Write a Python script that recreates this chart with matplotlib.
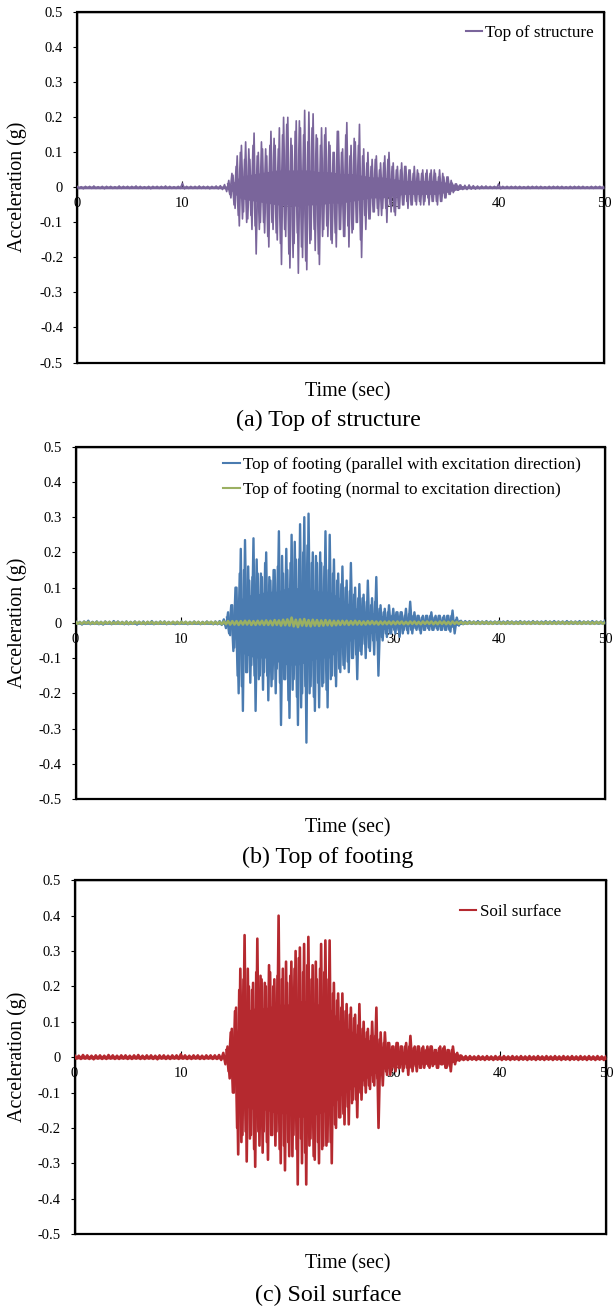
"""
Acceleration time histories: top of structure, top of footing, soil surface.
Each series is the run of successive peaks read off the record (alternating
sign), one peak every DT seconds, 0-50 s.  During strong shaking a second run
of in-between peaks (offset by DT/2, from SEC_T0) and the solid core of the
trace (upper/lower edge read at ENV_T) are kept as well.
"""

import numpy as np
import matplotlib
matplotlib.use("Agg")
import matplotlib.pyplot as plt

DT = 0.2  # s between successive peaks
SEC_T0 = 14.3  # first in-between peak

# (a) top of structure
top_structure = [
    0.003, -0.003, 0.002, -0.004, 0.003, -0.002, 0.003, -0.003, 0.004, -0.003, 0.002, -0.003, 0.003, -0.004, 0.003, -0.002, 0.003, -0.003, 0.002, -0.003, 0.004, -0.003, 0.003, -0.002, 0.003,
    -0.003, 0.003, -0.002, 0.004, -0.003, 0.003, -0.003, 0.002, -0.003, 0.003, -0.004, 0.003, -0.002, 0.003, -0.003, 0.003, -0.002, 0.004, -0.003, 0.003, -0.003, 0.002, -0.003, 0.003, -0.003,
    0.012, -0.004, 0.003, -0.003, 0.003, -0.003, 0.003, -0.003, 0.004, -0.003, 0.003, -0.003, 0.003, -0.004, 0.003, -0.003, 0.004, -0.004, 0.005, -0.006, 0.008, -0.012, 0.02, -0.03, 0.035,
    -0.06, 0.09, -0.11, 0.12, -0.07, 0.13, -0.09, 0.08, -0.12, 0.155, -0.19, 0.10, -0.10, 0.11, -0.13, 0.09, -0.17, 0.16, -0.12, 0.12, -0.15, 0.17, -0.22, 0.20, -0.14,
    0.20, -0.23, 0.12, -0.16, 0.19, -0.245, 0.17, -0.20, 0.22, -0.235, 0.215, -0.15, 0.21, -0.18, 0.14, -0.22, 0.17, -0.12, 0.17, -0.14, 0.12, -0.16, 0.10, -0.17, 0.16,
    -0.12, 0.11, -0.14, 0.185, -0.17, 0.12, -0.12, 0.13, -0.10, 0.18, -0.20, 0.11, -0.12, 0.10, -0.09, 0.08, -0.07, 0.09, -0.08, 0.07, -0.06, 0.09, -0.10, 0.10, -0.07,
    0.07, -0.08, 0.06, -0.06, 0.07, -0.05, 0.06, -0.06, 0.05, -0.05, 0.06, -0.05, 0.04, -0.05, 0.05, -0.04, 0.05, -0.05, 0.05, -0.04, 0.04, -0.05, 0.05, -0.04, 0.03,
    -0.03, 0.03, -0.02, 0.012, -0.01, 0.01, -0.008, 0.007, -0.006, 0.006, -0.006, 0.007, -0.005, 0.005, -0.005, 0.004, -0.004, 0.004, -0.003, 0.004, -0.003, 0.003, -0.003, 0.003, -0.003,
    0.010, -0.004, 0.003, -0.003, 0.003, -0.003, 0.003, -0.002, 0.003, -0.003, 0.003, -0.003, 0.002, -0.003, 0.003, -0.003, 0.003, -0.002, 0.003, -0.003, 0.003, -0.003, 0.002, -0.003, 0.003,
    -0.003, 0.003, -0.002, 0.003, -0.003, 0.003, -0.003, 0.002, -0.003, 0.003, -0.003, 0.003, -0.002, 0.003, -0.003, 0.003, -0.003, 0.002, -0.003, 0.003, -0.003, 0.003, -0.002, 0.003, -0.003, 0.003,
]
structure_mid = [
    0.01, -0.02, 0.04, -0.05, 0.06,
    -0.08, 0.10, -0.09, 0.08, -0.10, 0.11, -0.08, 0.12, -0.11, 0.09, -0.12, 0.13, -0.10, 0.11, -0.14, 0.12, -0.10, 0.14, -0.13, 0.11,
    -0.16, 0.15, -0.12, 0.18, -0.19, 0.14, -0.20, 0.16, -0.13, 0.19, -0.17, 0.15, -0.21, 0.13, -0.16, 0.17, -0.12, 0.15, -0.19, 0.12,
    -0.14, 0.15, -0.11, 0.13, -0.15, 0.10, -0.13, 0.16, -0.12, 0.10, -0.14, 0.15, -0.11, 0.09, -0.13, 0.14, -0.10, 0.12, -0.15, 0.09,
    -0.08, 0.07, -0.09, 0.06, -0.07, 0.08, -0.06, 0.05, -0.08, 0.07, -0.06, 0.08, -0.05, 0.06, -0.07, 0.05, -0.06, 0.05, -0.05, 0.06,
    -0.04, 0.05, -0.05, 0.04, -0.04, 0.05, -0.04, 0.04, -0.05, 0.04, -0.03, 0.04, -0.04, 0.05, -0.04, 0.03, -0.04, 0.04, -0.03, 0.03,
    -0.02, 0.02, -0.015, 0.01, -0.008, 0.006,
]

# (b) top of footing, parallel with excitation
footing_parallel = [
    0.004, -0.003, 0.003, -0.005, 0.004, -0.003, 0.006, -0.004, 0.003, -0.003, 0.004, -0.004, 0.003, -0.005, 0.004, -0.003, 0.003, -0.004, 0.005, -0.003, 0.004, -0.003, 0.003, -0.004, 0.004,
    -0.004, 0.003, -0.003, 0.004, -0.005, 0.003, -0.003, 0.004, -0.004, 0.003, -0.003, 0.005, -0.004, 0.003, -0.003, 0.004, -0.003, 0.004, -0.004, 0.003, -0.003, 0.003, -0.004, 0.003, -0.003,
    0.004, -0.003, 0.003, -0.004, 0.003, -0.003, 0.004, -0.003, 0.003, -0.004, 0.003, -0.003, 0.004, -0.003, 0.003, -0.004, 0.004, -0.004, 0.005, -0.006, 0.010, -0.015, 0.030, -0.035, 0.050,
    -0.07, 0.10, -0.20, 0.21, -0.25, 0.235, -0.14, 0.12, -0.12, 0.24, -0.25, 0.14, -0.15, 0.13, -0.14, 0.20, -0.22, 0.12, -0.16, 0.15, -0.13, 0.26, -0.29, 0.14, -0.16,
    0.15, -0.27, 0.25, -0.16, 0.18, -0.29, 0.28, -0.20, 0.30, -0.34, 0.31, -0.18, 0.20, -0.25, 0.17, -0.24, 0.17, -0.17, 0.26, -0.24, 0.25, -0.15, 0.18, -0.18, 0.14,
    -0.14, 0.16, -0.13, 0.12, -0.14, 0.17, -0.10, 0.10, -0.16, 0.11, -0.09, 0.08, -0.10, 0.12, -0.08, 0.07, -0.09, 0.13, -0.15, 0.05, -0.05, 0.04, -0.04, 0.05, -0.03,
    0.04, -0.03, 0.03, -0.04, 0.03, -0.02, 0.04, -0.03, 0.06, -0.03, 0.03, -0.02, 0.02, -0.03, 0.02, -0.02, 0.02, -0.02, 0.03, -0.02, 0.02, -0.02, 0.02, -0.02, 0.02,
    -0.02, 0.02, -0.025, 0.035, -0.03, 0.015, -0.008, 0.006, -0.004, 0.005, -0.003, 0.005, -0.003, 0.004, -0.003, 0.005, -0.003, 0.004, -0.003, 0.005, -0.003, 0.004, -0.003, 0.004, -0.003,
    0.005, -0.002, 0.004, -0.003, 0.005, -0.002, 0.004, -0.003, 0.004, -0.002, 0.005, -0.003, 0.004, -0.002, 0.004, -0.003, 0.005, -0.002, 0.004, -0.003, 0.004, -0.002, 0.005, -0.003, 0.004,
    -0.002, 0.005, -0.003, 0.004, -0.002, 0.004, -0.003, 0.005, -0.002, 0.004, -0.003, 0.004, -0.002, 0.005, -0.003, 0.004, -0.002, 0.004, -0.003, 0.005, -0.002, 0.004, -0.003, 0.004, -0.002, 0.006,
]
parallel_mid = [
    0.015, -0.03, 0.05, -0.08, 0.10,
    -0.15, 0.14, -0.18, 0.15, -0.14, 0.16, -0.17, 0.13, -0.15, 0.18, -0.16, 0.14, -0.19, 0.17, -0.15, 0.13, -0.18, 0.15, -0.20, 0.16,
    -0.17, 0.19, -0.16, 0.21, -0.22, 0.17, -0.19, 0.23, -0.21, 0.18, -0.24, 0.20, -0.18, 0.22, -0.20, 0.17, -0.21, 0.19, -0.17, 0.20,
    -0.18, 0.16, -0.19, 0.15, -0.16, 0.14, -0.15, 0.12, -0.13, 0.11, -0.12, 0.10, -0.11, 0.09, -0.10, 0.08, -0.09, 0.07, -0.08, 0.07,
    -0.06, 0.06, -0.07, 0.05, -0.05, 0.06, -0.05, 0.04, -0.04, 0.03, -0.03, 0.03, -0.03, 0.02, -0.02, 0.03, -0.02, 0.03, -0.03, 0.02,
    -0.02, 0.025, -0.02, 0.02, -0.015, 0.02, -0.02, 0.015, -0.02, 0.02, -0.015, 0.02, -0.02, 0.015, -0.015, 0.02, -0.02, 0.015, -0.02, 0.02,
    -0.02, 0.02, -0.012, 0.008, -0.005, 0.004,
]

# (b) top of footing, normal to excitation
footing_normal = [
    0.003, -0.003, 0.002, -0.003, 0.003, -0.002, 0.003, -0.003, 0.002, -0.003, 0.003, -0.003, 0.002, -0.003, 0.003, -0.002, 0.003, -0.003, 0.002, -0.003, 0.003, -0.003, 0.002, -0.003, 0.003,
    -0.003, 0.002, -0.003, 0.003, -0.002, 0.003, -0.003, 0.002, -0.003, 0.003, -0.002, 0.003, -0.003, 0.002, -0.003, 0.003, -0.002, 0.003, -0.003, 0.002, -0.003, 0.003, -0.002, 0.003, -0.003,
    0.003, -0.002, 0.003, -0.003, 0.002, -0.003, 0.003, -0.002, 0.003, -0.003, 0.002, -0.003, 0.003, -0.002, 0.003, -0.003, 0.003, -0.003, 0.003, -0.004, 0.004, -0.004, 0.005, -0.005, 0.005,
    -0.005, 0.005, -0.006, 0.005, -0.005, 0.006, -0.005, 0.006, -0.006, 0.005, -0.006, 0.006, -0.005, 0.006, -0.006, 0.007, -0.006, 0.006, -0.007, 0.008, -0.006, 0.007, -0.008, 0.009, -0.007,
    0.010, -0.008, 0.015, -0.010, 0.009, -0.012, 0.010, -0.008, 0.011, -0.009, 0.008, -0.010, 0.009, -0.008, 0.008, -0.009, 0.007, -0.008, 0.008, -0.007, 0.007, -0.008, 0.006, -0.007, 0.006,
    -0.006, 0.006, -0.005, 0.006, -0.006, 0.005, -0.005, 0.006, -0.005, 0.005, -0.005, 0.004, -0.005, 0.005, -0.004, 0.005, -0.004, 0.004, -0.005, 0.004, -0.004, 0.004, -0.004, 0.004, -0.004,
    0.004, -0.004, 0.004, -0.003, 0.004, -0.004, 0.003, -0.004, 0.004, -0.003, 0.004, -0.004, 0.003, -0.004, 0.004, -0.003, 0.004, -0.003, 0.004, -0.004, 0.003, -0.004, 0.004, -0.003, 0.004,
    -0.004, 0.003, -0.004, 0.004, -0.003, 0.003, -0.003, 0.003, -0.003, 0.002, -0.003, 0.003, -0.002, 0.003, -0.003, 0.002, -0.003, 0.003, -0.002, 0.003, -0.003, 0.002, -0.003, 0.003, -0.002,
    0.003, -0.003, 0.002, -0.003, 0.003, -0.002, 0.003, -0.003, 0.002, -0.003, 0.003, -0.002, 0.003, -0.003, 0.002, -0.003, 0.003, -0.002, 0.003, -0.003, 0.002, -0.003, 0.003, -0.002, 0.003,
    -0.003, 0.002, -0.003, 0.003, -0.002, 0.003, -0.003, 0.002, -0.003, 0.003, -0.002, 0.003, -0.003, 0.002, -0.003, 0.003, -0.002, 0.003, -0.003, 0.002, -0.003, 0.003, -0.002, 0.003, -0.003, 0.002,
]

# (c) soil surface
soil_surface = [
    0.005, -0.004, 0.004, -0.005, 0.006, -0.004, 0.005, -0.005, 0.004, -0.006, 0.005, -0.004, 0.005, -0.005, 0.004, -0.005, 0.006, -0.004, 0.005, -0.005, 0.004, -0.005, 0.005, -0.004, 0.005,
    -0.005, 0.004, -0.005, 0.005, -0.004, 0.006, -0.005, 0.004, -0.005, 0.005, -0.004, 0.005, -0.005, 0.004, -0.006, 0.005, -0.004, 0.005, -0.005, 0.004, -0.005, 0.005, -0.004, 0.005, -0.005,
    0.008, -0.004, 0.005, -0.005, 0.004, -0.005, 0.005, -0.004, 0.005, -0.005, 0.004, -0.005, 0.005, -0.004, 0.005, -0.005, 0.005, -0.005, 0.006, -0.008, 0.012, -0.02, 0.03, -0.06, 0.08,
    -0.10, 0.14, -0.275, 0.25, -0.22, 0.345, -0.295, 0.20, -0.22, 0.21, -0.31, 0.335, -0.25, 0.22, -0.21, 0.20, -0.29, 0.24, -0.22, 0.22, -0.21, 0.40, -0.30, 0.25, -0.32,
    0.21, -0.28, 0.27, -0.22, 0.30, -0.36, 0.31, -0.30, 0.32, -0.36, 0.34, -0.23, 0.26, -0.29, 0.22, -0.30, 0.32, -0.25, 0.33, -0.24, 0.33, -0.30, 0.21, -0.20, 0.18,
    -0.17, 0.18, -0.19, 0.15, -0.19, 0.14, -0.12, 0.12, -0.17, 0.15, -0.12, 0.10, -0.10, 0.08, -0.09, 0.10, -0.08, 0.14, -0.20, 0.07, -0.08, 0.07, -0.05, 0.04, -0.04,
    0.03, -0.04, 0.04, -0.03, 0.03, -0.03, 0.04, -0.05, 0.06, -0.04, 0.03, -0.04, 0.03, -0.03, 0.03, -0.02, 0.03, -0.03, 0.03, -0.02, 0.02, -0.03, 0.03, -0.02, 0.03,
    -0.03, 0.02, -0.04, 0.03, -0.02, 0.012, -0.010, 0.004, -0.008, 0.003, -0.008, 0.003, -0.007, 0.002, -0.008, 0.003, -0.007, 0.002, -0.008, 0.003, -0.007, 0.002, -0.008, 0.003, -0.007,
    0.002, -0.008, 0.003, -0.007, 0.002, -0.008, 0.003, -0.007, 0.002, -0.008, 0.003, -0.007, 0.002, -0.008, 0.003, -0.007, 0.002, -0.008, 0.003, -0.007, 0.002, -0.008, 0.003, -0.007, 0.002,
    -0.008, 0.003, -0.007, 0.002, -0.008, 0.003, -0.007, 0.002, -0.008, 0.003, -0.007, 0.002, -0.008, 0.003, -0.007, 0.002, -0.008, 0.003, -0.007, 0.002, -0.008, 0.003, -0.007, 0.002, -0.008, 0.002,
]
soil_mid = [
    0.02, -0.04, 0.07, -0.10, 0.13,
    -0.20, 0.19, -0.24, 0.22, -0.21, 0.25, -0.23, 0.19, -0.26, 0.24, -0.21, 0.23, -0.27, 0.21, -0.24, 0.26, -0.22, 0.20, -0.25, 0.23,
    -0.26, 0.22, -0.25, 0.27, -0.24, 0.23, -0.28, 0.25, -0.26, 0.28, -0.23, 0.24, -0.27, 0.26, -0.25, 0.22, -0.28, 0.27, -0.24, 0.25,
    -0.26, 0.24, -0.25, 0.22, -0.24, 0.18, -0.19, 0.16, -0.17, 0.14, -0.16, 0.13, -0.14, 0.12, -0.13, 0.11, -0.12, 0.09, -0.10, 0.08,
    -0.08, 0.07, -0.08, 0.06, -0.07, 0.06, -0.06, 0.05, -0.05, 0.04, -0.04, 0.04, -0.05, 0.03, -0.03, 0.04, -0.03, 0.03, -0.04, 0.03,
    -0.03, 0.03, -0.03, 0.025, -0.025, 0.03, -0.03, 0.025, -0.03, 0.02, -0.025, 0.03, -0.025, 0.02, -0.03, 0.025, -0.02, 0.025, -0.03, 0.02,
    -0.025, 0.02, -0.012, 0.008, -0.006, 0.004,
]

# solid core of each trace (upper / lower edge), read at these times
ENV_T = [0, 14.2, 14.6, 15.0, 15.4, 16, 17, 18, 19, 20, 21, 22, 23, 24, 25,
         26, 27, 28, 29, 30, 31, 32, 33, 34, 35, 35.6, 36.2, 37, 50]

structure_up = [0.004, 0.004, 0.008, 0.02, 0.03, 0.035, 0.04, 0.045, 0.05, 0.05, 0.05, 0.05, 0.045, 0.045, 0.04,
                0.04, 0.035, 0.03, 0.03, 0.025, 0.02, 0.02, 0.02, 0.02, 0.015, 0.01, 0.006, 0.004, 0.004]
structure_lo = [-0.004, -0.004, -0.008, -0.02, -0.03, -0.035, -0.04, -0.045, -0.05, -0.05, -0.055, -0.05, -0.05, -0.045, -0.045,
                -0.04, -0.035, -0.03, -0.03, -0.025, -0.02, -0.02, -0.02, -0.02, -0.015, -0.01, -0.006, -0.004, -0.004]

parallel_up = [0.004, 0.004, 0.01, 0.03, 0.06, 0.08, 0.08, 0.09, 0.09, 0.10, 0.10, 0.10, 0.09, 0.09, 0.07,
               0.05, 0.035, 0.03, 0.02, 0.012, 0.01, 0.01, 0.01, 0.01, 0.01, 0.01, 0.005, 0.005, 0.005]
parallel_lo = [-0.004, -0.004, -0.012, -0.04, -0.08, -0.09, -0.10, -0.10, -0.11, -0.12, -0.12, -0.11, -0.10, -0.10, -0.07,
               -0.05, -0.035, -0.03, -0.02, -0.012, -0.01, -0.01, -0.01, -0.01, -0.01, -0.012, -0.005, -0.003, -0.003]

soil_up = [0.005, 0.005, 0.012, 0.045, 0.09, 0.13, 0.14, 0.14, 0.15, 0.15, 0.16, 0.16, 0.15, 0.14, 0.10,
           0.075, 0.06, 0.045, 0.03, 0.02, 0.016, 0.016, 0.016, 0.016, 0.016, 0.012, 0.004, 0.003, 0.003]
soil_lo = [-0.005, -0.005, -0.015, -0.06, -0.10, -0.14, -0.15, -0.15, -0.16, -0.16, -0.17, -0.17, -0.16, -0.15, -0.11,
           -0.09, -0.07, -0.05, -0.035, -0.022, -0.02, -0.02, -0.02, -0.02, -0.02, -0.015, -0.008, -0.007, -0.007]

for s in (top_structure, footing_parallel, footing_normal, soil_surface):
    assert len(s) == 251, len(s)
for s in (structure_mid, parallel_mid, soil_mid):
    assert len(s) == 111, len(s)
for s in (structure_up, structure_lo, parallel_up, parallel_lo, soil_up, soil_lo):
    assert len(s) == len(ENV_T), len(s)

X_TICKS = [0, 10, 20, 30, 40, 50]
Y_TICKS = [-0.5, -0.4, -0.3, -0.2, -0.1, 0, 0.1, 0.2, 0.3, 0.4, 0.5]

PURPLE = "#7a659b"
BLUE = "#4a7bb0"
GREEN = "#9bb062"
RED = "#b5292f"

W, H = 614, 1308
plt.rcParams["font.family"] = ["Liberation Serif", "DejaVu Serif"]


def px(x, y):
    """pixel position (from top-left) -> figure fraction"""
    return x / W, 1 - y / H


def draw_panel(fig, box, series, legend_at, caption, label_y, xlabel_y, caption_y):
    left, top, right, bottom = box
    ax = fig.add_axes([left / W, 1 - bottom / H, (right - left) / W, (bottom - top) / H])
    for vals, mid, band, label, color, lw in series:
        if band is not None:
            ax.fill_between(ENV_T, band[0], band[1], color=color, lw=0, zorder=3)
        if mid is not None:
            ax.plot(SEC_T0 + np.arange(len(mid)) * DT, mid, color=color, lw=lw, zorder=3)
        ax.plot(np.arange(len(vals)) * DT, vals, color=color, lw=lw, label=label, zorder=3)

    ax.set_xlim(0, 50)
    ax.set_ylim(-0.5, 0.5)
    ax.set_xticks(X_TICKS)
    ax.set_xticklabels([f"{v:g}" for v in X_TICKS])
    ax.set_yticks(Y_TICKS)
    ax.set_yticklabels([f"{v:g}" for v in Y_TICKS])

    # x axis crosses at zero like the spreadsheet original, frame kept as a box
    ax.spines["bottom"].set_position(("data", 0))
    ax.spines["bottom"].set_linewidth(0.8)
    for side in ("top", "left", "right"):
        ax.spines[side].set_linewidth(1.0)
    ax.patch.set_edgecolor("black")
    ax.patch.set_linewidth(1.6)

    ax.tick_params(axis="x", direction="in", length=4, width=0.8, pad=7, labelsize=10.5)
    ax.tick_params(axis="y", direction="out", length=3, width=0.8, pad=7, labelsize=10.5)

    leg = ax.legend(loc="upper right", bbox_to_anchor=px(*legend_at), bbox_transform=fig.transFigure,
                    frameon=False, fontsize=12.3, handlelength=0.95, handletextpad=0.2,
                    labelspacing=0.5, borderpad=0, borderaxespad=0)
    for h in leg.legend_handles:
        h.set_linewidth(1.5)

    fig.text(*px(17, label_y), "Acceleration (g)", rotation=90, ha="center", va="center", fontsize=14.4)
    fig.text(*px(348, xlabel_y), "Time (sec)", ha="center", va="center", fontsize=14.4)
    fig.text(*px(328, caption_y), caption, ha="center", va="center", fontsize=17.3)
    return ax


fig = plt.figure(figsize=(W / 100, H / 100), dpi=100)

draw_panel(fig, (77, 12.3, 604, 362.5),
           [(top_structure, structure_mid, (structure_up, structure_lo), "Top of structure", PURPLE, 1.2)],
           legend_at=(594, 25), caption="(a) Top of structure",
           label_y=187, xlabel_y=392, caption_y=420)

draw_panel(fig, (75.6, 446.7, 605, 799),
           [(footing_parallel, parallel_mid, (parallel_up, parallel_lo),
             "Top of footing (parallel with excitation direction)", BLUE, 1.7),
            (footing_normal, None, None, "Top of footing (normal to excitation direction)", GREEN, 1.8)],
           legend_at=(581, 457), caption="(b) Top of footing",
           label_y=623, xlabel_y=828, caption_y=857)

draw_panel(fig, (74.5, 880.3, 606, 1234),
           [(soil_surface, soil_mid, (soil_up, soil_lo), "Soil surface", RED, 1.9)],
           legend_at=(561, 904), caption="(c) Soil surface",
           label_y=1057, xlabel_y=1264, caption_y=1295)

fig.savefig("out.png", dpi=100)
